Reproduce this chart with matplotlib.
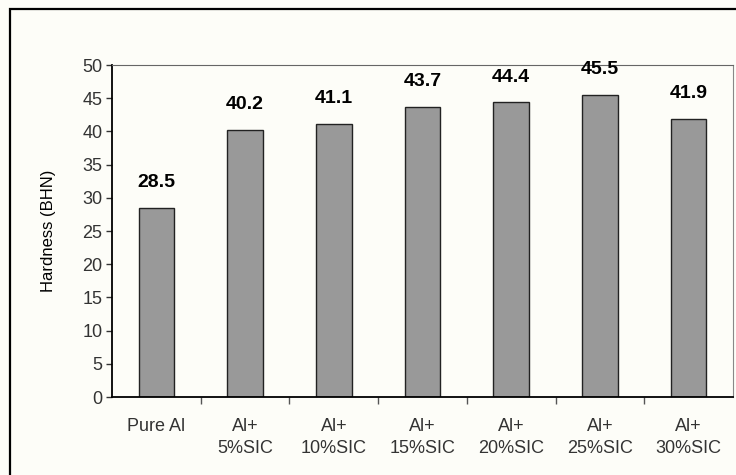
import numpy as np
import matplotlib.pyplot as plt
from matplotlib.patches import Rectangle

plt.rcParams['font.family'] = ['Liberation Sans', 'DejaVu Sans']

# hardness of Al / SiC composites
samples = ['Pure Al', 'Al+\n5%SIC', 'Al+\n10%SIC', 'Al+\n15%SIC',
           'Al+\n20%SIC', 'Al+\n25%SIC', 'Al+\n30%SIC']
hardness = [28.5, 40.2, 41.1, 43.7, 44.4, 45.5, 41.9]

W, H = 736, 475
fig = plt.figure(figsize=(W / 100, H / 100), dpi=100, facecolor='#fdfdf8')

# outer frame around the chart
fig.patches.append(Rectangle((10 / W, -0.1), 1.2, (H - 9) / H + 0.1,
                             transform=fig.transFigure, fill=False,
                             edgecolor='black', linewidth=1.6))

ax = fig.add_axes([112 / W, (H - 397) / H, (733 - 112) / W, (397 - 65) / H])
ax.set_facecolor('#fdfdf8')

x = np.arange(len(samples))
ax.bar(x, hardness, width=0.4, color='#999999', edgecolor='#222222', linewidth=1.0)

for xi, v in zip(x, hardness):
    ax.text(xi, v + 2.5, f'{v}', ha='center', va='bottom', fontsize=14,
            fontweight='bold', color='black')

ax.set_xlim(-0.5, len(samples) - 0.5)
ax.set_ylim(0, 50)
ax.set_yticks(np.arange(0, 51, 5))
ax.tick_params(axis='y', labelsize=13, length=4, width=1, pad=3, colors='#333333')

ax.set_xticks(x)
ax.set_xticklabels(samples, fontsize=13, color='#333333', linespacing=1.4)
ax.tick_params(axis='x', length=0, pad=15)
ax.set_xticks(np.arange(0.5, len(samples) - 0.5), minor=True)
ax.tick_params(axis='x', which='minor', length=5, width=1, direction='out', color='#555555')

ax.set_ylabel('Hardness (BHN)', fontsize=12, labelpad=19)

ax.spines['left'].set_linewidth(1.3)
ax.spines['bottom'].set_linewidth(1.3)
ax.spines['top'].set_color('#666666')
ax.spines['top'].set_linewidth(0.8)
ax.spines['right'].set_color('#888888')
ax.spines['right'].set_linewidth(0.8)

fig.savefig('out.png', dpi=100, facecolor=fig.get_facecolor())
